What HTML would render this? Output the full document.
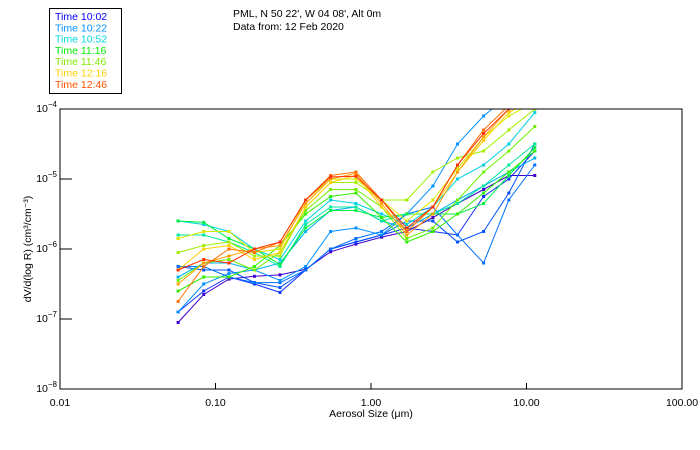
<!DOCTYPE html>
<html><head><meta charset="utf-8"><style>
body{margin:0;background:#fff;}
svg{display:block;font-family:"Liberation Sans",sans-serif;}
</style></head><body>
<svg id="chart" width="700" height="450">
<rect x="0" y="0" width="700" height="450" fill="#fff"/>
<g>
<rect x="49.5" y="8.5" width="72" height="85" fill="#fff" stroke="#000"/>
<g id="legend-items" font-size="10.5"></g>
</g>
<text x="233" y="17" font-size="10.5">PML, N 50 22', W 04 08', Alt 0m</text>
<text x="233" y="30" font-size="10.5">Data from: 12 Feb 2020</text>
<defs><clipPath id="plotclip"><rect x="60" y="109" width="622" height="280"/></clipPath></defs>
<g id="series" clip-path="url(#plotclip)"></g>
<rect x="60" y="109" width="622" height="280" fill="none" stroke="#000"/>
<g id="axes" font-size="10.5"></g>
<text x="371" y="417" font-size="10.5" text-anchor="middle">Aerosol Size (μm)</text>
<text transform="translate(31,249) rotate(-90)" font-size="10.5" text-anchor="middle">dV/d(log R) (cm³/cm⁻³)</text>
</svg>
<script>
// Bin sizes (µm)
const sizes = [0.0575,0.084,0.122,0.178,0.26,0.38,0.55,0.80,1.17,1.7,2.5,3.6,5.3,7.7,11.3];
// log10 of dV/dlogR for each scan
const s0 = [-7.05,-6.65,-6.43,-6.39,-6.37,-6.29,-6.04,-5.93,-5.83,-5.75,-5.55,-5.35,-5.15,-4.95,-4.95];
const s1 = [-6.9,-6.6,-6.4,-6.5,-6.62,-6.3,-6.0,-5.9,-5.8,-5.7,-5.75,-5.8,-5.25,-5.0,-4.6];
const s2 = [-6.25,-6.3,-6.3,-6.48,-6.55,-6.3,-6.0,-5.9,-5.8,-5.6,-5.6,-5.9,-5.75,-5.2,-4.5];
const s3 = [-6.25,-6.25,-6.4,-6.48,-6.48,-6.3,-6.0,-5.85,-5.75,-5.5,-5.4,-5.8,-6.2,-5.3,-4.8];
const s4 = [-6.9,-6.5,-6.35,-6.3,-6.45,-6.25,-5.75,-5.7,-5.8,-5.5,-5.1,-4.5,-4.1,-3.8,-3.6];
const s5 = [-6.4,-6.2,-6.2,-6.3,-6.2,-5.75,-5.45,-5.4,-5.6,-5.7,-5.5,-5.3,-5.1,-4.9,-4.7];
const s6 = [-5.6,-5.65,-5.75,-6.0,-6.15,-5.6,-5.3,-5.35,-5.5,-5.65,-5.4,-5.0,-4.8,-4.5,-4.05];
const s7 = [-5.8,-5.8,-5.9,-6.05,-6.25,-5.65,-5.4,-5.4,-5.6,-5.5,-5.5,-5.35,-5.1,-4.8,-4.5];
const s8 = [-5.6,-5.62,-5.85,-6.0,-6.22,-5.7,-5.45,-5.45,-5.55,-5.5,-5.5,-5.5,-5.35,-4.95,-4.55];
const s9 = [-6.6,-6.4,-6.4,-6.25,-5.95,-5.5,-5.25,-5.2,-5.55,-5.9,-5.75,-5.5,-5.2,-4.9,-4.6];
const s10 = [-6.45,-6.2,-6.15,-6.3,-6.05,-5.45,-5.15,-5.15,-5.4,-5.85,-5.7,-5.3,-4.9,-4.6,-4.25];
const s11 = [-6.05,-5.95,-5.9,-6.1,-6.1,-5.4,-5.05,-5.05,-5.3,-5.3,-4.9,-4.7,-4.6,-4.3,-4.0];
const s12 = [-5.85,-5.75,-5.75,-6.05,-6.0,-5.3,-5.0,-5.0,-5.3,-5.6,-5.3,-4.85,-4.4,-4.1,-3.9];
const s13 = [-6.3,-6.0,-5.95,-6.15,-6.05,-5.4,-5.05,-4.95,-5.4,-5.75,-5.4,-4.9,-4.45,-4.05,-3.85];
const s14 = [-6.5,-6.2,-6.1,-6.0,-5.95,-5.35,-5.0,-4.92,-5.35,-5.8,-5.5,-4.9,-4.4,-4.0,-3.8];
const s15 = [-6.75,-6.25,-6.0,-6.05,-5.9,-5.3,-4.95,-4.9,-5.3,-5.75,-5.4,-4.8,-4.3,-3.95,-3.75];
const s16 = [-6.3,-6.15,-6.2,-6.0,-5.9,-5.3,-4.97,-4.96,-5.3,-5.7,-5.4,-4.8,-4.35,-4.0,-3.8];
const seriesList = [s0,s1,s2,s3,s4,s5,s6,s7,s8,s9,s10,s11,s12,s13,s14,s15,s16];
const seriesColors = ['#4000d0','#1030ff','#0050ff','#0070ff','#0090ff','#00b0f0','#00d0e0','#00e8a0','#00f040','#30f000','#70f000','#a0f000','#d8e800','#ffd000','#ffa000','#ff7000','#ff3000'];
const legendLabels = ['Time 10:02','Time 10:22','Time 10:52','Time 11:16','Time 11:46','Time 12:16','Time 12:46'];
const legendColors = ['#0000ff','#0090ff','#00d8e0','#00e800','#80e800','#ffd000','#ff5000'];
const xTicks = [0.01,0.1,1,10,100];
const xTickLabels = ['0.01','0.10','1.00','10.00','100.00'];
const yTicks = [-4,-5,-6,-7,-8];

const NS='http://www.w3.org/2000/svg';
const X0=60,X1=682,Y0=109,Y1=389;
function xs(v){return X0+(Math.log10(v)+2)/4*(X1-X0);}
function ys(l){return Y0+(-4-l)/4*(Y1-Y0);}
function mk(tag,attrs,parent){const e=document.createElementNS(NS,tag);for(const k in attrs)e.setAttribute(k,attrs[k]);parent.appendChild(e);return e;}

const lg=document.getElementById('legend-items');
legendLabels.forEach((t,i)=>{
  const e=mk('text',{x:55,y:20+i*11.3,fill:legendColors[i]},lg);
  e.textContent=t;
  
  
});

const sg=document.getElementById('series');
seriesList.forEach((s,i)=>{
  const g=mk('g',{},sg);
  
  
  const pts=s.map((l,j)=>xs(sizes[j]).toFixed(1)+','+ys(l).toFixed(1)).join(' ');
  mk('polyline',{points:pts,fill:'none',stroke:seriesColors[i],'stroke-width':1},g);
  s.forEach((l,j)=>{
    const r=mk('rect',{x:xs(sizes[j])-1.5,y:ys(l)-1.5,width:3,height:3,fill:seriesColors[i]},g);
    
    
  });
});

const ax=document.getElementById('axes');
xTicks.forEach((v,i)=>{
  const x=xs(v);
  mk('line',{x1:x,x2:x,y1:Y1,y2:Y1-6,stroke:'#000'},ax);
  const t=mk('text',{x:x,y:Y1+17,'text-anchor':'middle'},ax);
  t.textContent=xTickLabels[i];
  
  
});
yTicks.forEach(l=>{
  const y=ys(l);
  mk('line',{x1:X0,x2:X0+12,y1:y,y2:y,stroke:'#000'},ax);
  const t=mk('text',{x:X0-3,y:y+3,'text-anchor':'end'},ax);
  t.textContent='10';
  const sp=mk('tspan',{dy:-5,'font-size':'8'},t);
  sp.textContent='−'+(-l);
  
  
});
</script>
</body></html>
